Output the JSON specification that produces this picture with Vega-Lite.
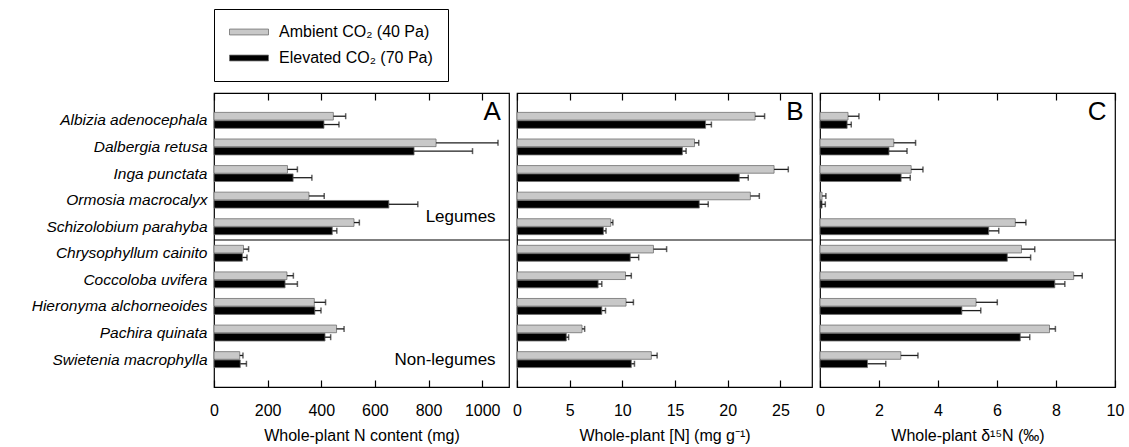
{
  "$schema": "https://vega.github.io/schema/vega-lite/v6.json",
  "padding": {"left": 30, "top": 8, "right": 5, "bottom": 0},
  "datasets": {
    "plants": [
      {"species": "Albizia adenocephala", "co2": "Ambient CO₂ (40 Pa)", "content": 445, "content_hi": 491, "conc": 22.6, "conc_hi": 23.5, "d15n": 0.95, "d15n_hi": 1.32},
      {"species": "Albizia adenocephala", "co2": "Elevated CO₂ (70 Pa)", "content": 410, "content_hi": 466, "conc": 17.9, "conc_hi": 18.45, "d15n": 0.92, "d15n_hi": 1.06},
      {"species": "Dalbergia retusa", "co2": "Ambient CO₂ (40 Pa)", "content": 828, "content_hi": 1059, "conc": 16.85, "conc_hi": 17.25, "d15n": 2.5, "d15n_hi": 3.24},
      {"species": "Dalbergia retusa", "co2": "Elevated CO₂ (70 Pa)", "content": 746, "content_hi": 964, "conc": 15.7, "conc_hi": 16.05, "d15n": 2.34, "d15n_hi": 2.95},
      {"species": "Inga punctata", "co2": "Ambient CO₂ (40 Pa)", "content": 274, "content_hi": 311, "conc": 24.4, "conc_hi": 25.75, "d15n": 3.09, "d15n_hi": 3.49},
      {"species": "Inga punctata", "co2": "Elevated CO₂ (70 Pa)", "content": 295, "content_hi": 365, "conc": 21.1, "conc_hi": 21.95, "d15n": 2.75, "d15n_hi": 3.06},
      {"species": "Ormosia macrocalyx", "co2": "Ambient CO₂ (40 Pa)", "content": 354, "content_hi": 411, "conc": 22.15, "conc_hi": 23.0, "d15n": 0.07, "d15n_hi": 0.2},
      {"species": "Ormosia macrocalyx", "co2": "Elevated CO₂ (70 Pa)", "content": 652, "content_hi": 760, "conc": 17.3, "conc_hi": 18.15, "d15n": 0.07, "d15n_hi": 0.18},
      {"species": "Schizolobium parahyba", "co2": "Ambient CO₂ (40 Pa)", "content": 522, "content_hi": 542, "conc": 8.9, "conc_hi": 9.1, "d15n": 6.62, "d15n_hi": 6.98},
      {"species": "Schizolobium parahyba", "co2": "Elevated CO₂ (70 Pa)", "content": 441, "content_hi": 458, "conc": 8.2, "conc_hi": 8.45, "d15n": 5.72, "d15n_hi": 6.06},
      {"species": "Chrysophyllum cainito", "co2": "Ambient CO₂ (40 Pa)", "content": 110, "content_hi": 129, "conc": 12.95, "conc_hi": 14.2, "d15n": 6.83, "d15n_hi": 7.28},
      {"species": "Chrysophyllum cainito", "co2": "Elevated CO₂ (70 Pa)", "content": 106, "content_hi": 123, "conc": 10.75, "conc_hi": 11.55, "d15n": 6.35, "d15n_hi": 7.14},
      {"species": "Coccoloba uvifera", "co2": "Ambient CO₂ (40 Pa)", "content": 272, "content_hi": 296, "conc": 10.3, "conc_hi": 10.85, "d15n": 8.6, "d15n_hi": 8.89},
      {"species": "Coccoloba uvifera", "co2": "Elevated CO₂ (70 Pa)", "content": 265, "content_hi": 311, "conc": 7.7, "conc_hi": 8.05, "d15n": 7.96, "d15n_hi": 8.3},
      {"species": "Hieronyma alchorneoides", "co2": "Ambient CO₂ (40 Pa)", "content": 374, "content_hi": 416, "conc": 10.35, "conc_hi": 11.05, "d15n": 5.29, "d15n_hi": 6.01},
      {"species": "Hieronyma alchorneoides", "co2": "Elevated CO₂ (70 Pa)", "content": 376, "content_hi": 399, "conc": 8.05, "conc_hi": 8.4, "d15n": 4.81, "d15n_hi": 5.45},
      {"species": "Pachira quinata", "co2": "Ambient CO₂ (40 Pa)", "content": 457, "content_hi": 485, "conc": 6.17, "conc_hi": 6.42, "d15n": 7.78, "d15n_hi": 7.98},
      {"species": "Pachira quinata", "co2": "Elevated CO₂ (70 Pa)", "content": 414, "content_hi": 435, "conc": 4.68, "conc_hi": 4.9, "d15n": 6.79, "d15n_hi": 7.11},
      {"species": "Swietenia macrophylla", "co2": "Ambient CO₂ (40 Pa)", "content": 96, "content_hi": 108, "conc": 12.75, "conc_hi": 13.3, "d15n": 2.74, "d15n_hi": 3.32},
      {"species": "Swietenia macrophylla", "co2": "Elevated CO₂ (70 Pa)", "content": 98, "content_hi": 121, "conc": 10.85, "conc_hi": 11.15, "d15n": 1.61, "d15n_hi": 2.23}
    ]
  },
  "data": {"name": "plants"},
  "hconcat": [
    {
      "width": 295,
      "height": 294,
      "layer": [
        {
          "mark": {"type": "bar", "stroke": "#707070", "strokeWidth": 0.8},
          "encoding": {
            "y": {"field": "species", "type": "nominal", "sort": null, "axis": {"title": null},
                  "scale": {"domain": ["Albizia adenocephala", "Dalbergia retusa", "Inga punctata", "Ormosia macrocalyx", "Schizolobium parahyba", "Chrysophyllum cainito", "Coccoloba uvifera", "Hieronyma alchorneoides", "Pachira quinata", "Swietenia macrophylla"], "paddingInner": 0.4, "paddingOuter": 0.73}},
            "yOffset": {"field": "co2", "type": "nominal", "scale": {"domain": ["Ambient CO₂ (40 Pa)", "Elevated CO₂ (70 Pa)"], "paddingInner": 0.08}},
            "x": {"field": "content", "type": "quantitative", "scale": {"domain": [0, 1100], "nice": false},
                  "axis": {"values": [0, 200, 400, 600, 800, 1000], "format": "d", "title": "Whole-plant N content (mg)"}},
            "color": {"field": "co2", "type": "nominal",
                      "scale": {"domain": ["Ambient CO₂ (40 Pa)", "Elevated CO₂ (70 Pa)"], "range": ["#c8c8c8", "#000000"]},
                      "legend": {"orient": "none", "legendX": 0, "legendY": -84, "title": null, "strokeColor": "#000", "fillColor": "#fff", "padding": 15, "rowPadding": 10, "clipHeight": 16, "symbolType": "M-1,-0.15H1V0.15H-1Z", "symbolSize": 1521, "symbolStrokeColor": "#707070", "symbolStrokeWidth": 0.8, "labelFontSize": 16, "labelOffset": 10, "labelColor": "#000", "labelLimit": 300}}
          }
        },
        {
          "mark": {"type": "rule", "color": "#1e1e1e", "strokeWidth": 1.3},
          "encoding": {
            "y": {"field": "species", "type": "nominal", "axis": {"title": null}},
            "yOffset": {"field": "co2", "type": "nominal"},
            "x": {"field": "content", "type": "quantitative", "axis": {"orient": "top", "labels": false, "title": null, "values": [0, 200, 400, 600, 800, 1000]}},
            "x2": {"field": "content_hi"}
          }
        },
        {
          "mark": {"type": "tick", "color": "#1e1e1e", "thickness": 1.5, "size": 6},
          "encoding": {
            "y": {"field": "species", "type": "nominal", "axis": {"title": null}},
            "yOffset": {"field": "co2", "type": "nominal"},
            "x": {"field": "content_hi", "type": "quantitative", "axis": null}
          }
        },
        {
          "data": {"values": [{}]},
          "mark": {"type": "rule", "color": "#000", "strokeWidth": 1.2},
          "encoding": {"y": {"datum": "Chrysophyllum cainito", "bandPosition": -0.333, "axis": {"title": null}}}
        },
        {
          "data": {"values": [{}]},
          "mark": {"type": "text", "align": "right", "baseline": "alphabetic", "fontSize": 26, "color": "#000"},
          "encoding": {"x": {"datum": 1070, "type": "quantitative", "axis": null}, "y": {"datum": "Albizia adenocephala", "axis": {"title": null}}, "text": {"value": "A"}}
        },
        {
          "data": {"values": [{}]},
          "mark": {"type": "text", "align": "right", "baseline": "middle", "fontSize": 17, "color": "#000"},
          "encoding": {"x": {"datum": 1050, "type": "quantitative", "axis": null}, "y": {"datum": "Schizolobium parahyba", "bandPosition": -0.1, "axis": {"title": null}}, "text": {"value": "Legumes"}}
        },
        {
          "data": {"values": [{}]},
          "mark": {"type": "text", "align": "right", "baseline": "middle", "fontSize": 17, "color": "#000"},
          "encoding": {"x": {"datum": 1050, "type": "quantitative", "axis": null}, "y": {"datum": "Swietenia macrophylla", "bandPosition": 0.55, "axis": {"title": null}}, "text": {"value": "Non-legumes"}}
        }
      ],
      "resolve": {"axis": {"x": "independent"}}
    },
    {
      "width": 295,
      "height": 294,
      "layer": [
        {
          "mark": {"type": "bar", "stroke": "#707070", "strokeWidth": 0.8},
          "encoding": {
            "y": {"field": "species", "type": "nominal", "sort": null, "axis": null,
                  "scale": {"domain": ["Albizia adenocephala", "Dalbergia retusa", "Inga punctata", "Ormosia macrocalyx", "Schizolobium parahyba", "Chrysophyllum cainito", "Coccoloba uvifera", "Hieronyma alchorneoides", "Pachira quinata", "Swietenia macrophylla"], "paddingInner": 0.4, "paddingOuter": 0.73}},
            "yOffset": {"field": "co2", "type": "nominal", "scale": {"domain": ["Ambient CO₂ (40 Pa)", "Elevated CO₂ (70 Pa)"], "paddingInner": 0.08}},
            "x": {"field": "conc", "type": "quantitative", "scale": {"domain": [0, 28], "nice": false},
                  "axis": {"values": [0, 5, 10, 15, 20, 25], "format": "d", "title": "Whole-plant [N] (mg g⁻¹)"}},
            "color": {"field": "co2", "type": "nominal",
                      "scale": {"domain": ["Ambient CO₂ (40 Pa)", "Elevated CO₂ (70 Pa)"], "range": ["#c8c8c8", "#000000"]},
                      "legend": null}
          }
        },
        {
          "mark": {"type": "rule", "color": "#1e1e1e", "strokeWidth": 1.3},
          "encoding": {
            "y": {"field": "species", "type": "nominal", "axis": null},
            "yOffset": {"field": "co2", "type": "nominal"},
            "x": {"field": "conc", "type": "quantitative", "axis": {"orient": "top", "labels": false, "title": null, "values": [0, 5, 10, 15, 20, 25]}},
            "x2": {"field": "conc_hi"}
          }
        },
        {
          "mark": {"type": "tick", "color": "#1e1e1e", "thickness": 1.5, "size": 6},
          "encoding": {
            "y": {"field": "species", "type": "nominal", "axis": null},
            "yOffset": {"field": "co2", "type": "nominal"},
            "x": {"field": "conc_hi", "type": "quantitative", "axis": null}
          }
        },
        {
          "data": {"values": [{}]},
          "mark": {"type": "rule", "color": "#000", "strokeWidth": 1.2},
          "encoding": {"y": {"datum": "Chrysophyllum cainito", "bandPosition": -0.333, "axis": null}}
        },
        {
          "data": {"values": [{}]},
          "mark": {"type": "text", "align": "right", "baseline": "alphabetic", "fontSize": 26, "color": "#000"},
          "encoding": {"x": {"datum": 27.2, "type": "quantitative", "axis": null}, "y": {"datum": "Albizia adenocephala", "axis": null}, "text": {"value": "B"}}
        }
      ],
      "resolve": {"axis": {"x": "independent"}}
    },
    {
      "width": 295,
      "height": 294,
      "layer": [
        {
          "mark": {"type": "bar", "stroke": "#707070", "strokeWidth": 0.8},
          "encoding": {
            "y": {"field": "species", "type": "nominal", "sort": null, "axis": null,
                  "scale": {"domain": ["Albizia adenocephala", "Dalbergia retusa", "Inga punctata", "Ormosia macrocalyx", "Schizolobium parahyba", "Chrysophyllum cainito", "Coccoloba uvifera", "Hieronyma alchorneoides", "Pachira quinata", "Swietenia macrophylla"], "paddingInner": 0.4, "paddingOuter": 0.73}},
            "yOffset": {"field": "co2", "type": "nominal", "scale": {"domain": ["Ambient CO₂ (40 Pa)", "Elevated CO₂ (70 Pa)"], "paddingInner": 0.08}},
            "x": {"field": "d15n", "type": "quantitative", "scale": {"domain": [0, 10], "nice": false},
                  "axis": {"values": [0, 2, 4, 6, 8, 10], "format": "d", "title": "Whole-plant δ¹⁵N (‰)"}},
            "color": {"field": "co2", "type": "nominal",
                      "scale": {"domain": ["Ambient CO₂ (40 Pa)", "Elevated CO₂ (70 Pa)"], "range": ["#c8c8c8", "#000000"]},
                      "legend": null}
          }
        },
        {
          "mark": {"type": "rule", "color": "#1e1e1e", "strokeWidth": 1.3},
          "encoding": {
            "y": {"field": "species", "type": "nominal", "axis": null},
            "yOffset": {"field": "co2", "type": "nominal"},
            "x": {"field": "d15n", "type": "quantitative", "axis": {"orient": "top", "labels": false, "title": null, "values": [0, 2, 4, 6, 8, 10]}},
            "x2": {"field": "d15n_hi"}
          }
        },
        {
          "mark": {"type": "tick", "color": "#1e1e1e", "thickness": 1.5, "size": 6},
          "encoding": {
            "y": {"field": "species", "type": "nominal", "axis": null},
            "yOffset": {"field": "co2", "type": "nominal"},
            "x": {"field": "d15n_hi", "type": "quantitative", "axis": null}
          }
        },
        {
          "data": {"values": [{}]},
          "mark": {"type": "rule", "color": "#000", "strokeWidth": 1.2},
          "encoding": {"y": {"datum": "Chrysophyllum cainito", "bandPosition": -0.333, "axis": null}}
        },
        {
          "data": {"values": [{}]},
          "mark": {"type": "text", "align": "right", "baseline": "alphabetic", "fontSize": 26, "color": "#000"},
          "encoding": {"x": {"datum": 9.71, "type": "quantitative", "axis": null}, "y": {"datum": "Albizia adenocephala", "axis": null}, "text": {"value": "C"}}
        }
      ],
      "resolve": {"axis": {"x": "independent"}}
    }
  ],
  "spacing": 8,
  "bounds": "flush",
  "config": {
    "font": "Liberation Sans",
    "view": {"stroke": "#000", "strokeWidth": 1.2},
    "axis": {"domain": false, "grid": false, "labelFont": "Liberation Sans", "labelFontSize": 16, "labelColor": "#000", "titleFont": "Liberation Sans", "titleFontSize": 16, "titleFontWeight": "normal", "titleColor": "#000", "tickColor": "#000", "tickSize": -7, "tickWidth": 1.2},
    "axisY": {"ticks": false, "labelFontStyle": "italic", "labelFontSize": 15.5, "labelPadding": 7},
    "axisX": {"labelPadding": 22, "titlePadding": 9, "labelFlush": false},
    "text": {"font": "Liberation Sans"},
    "legend": {"labelFont": "Liberation Sans"}
  }
}
